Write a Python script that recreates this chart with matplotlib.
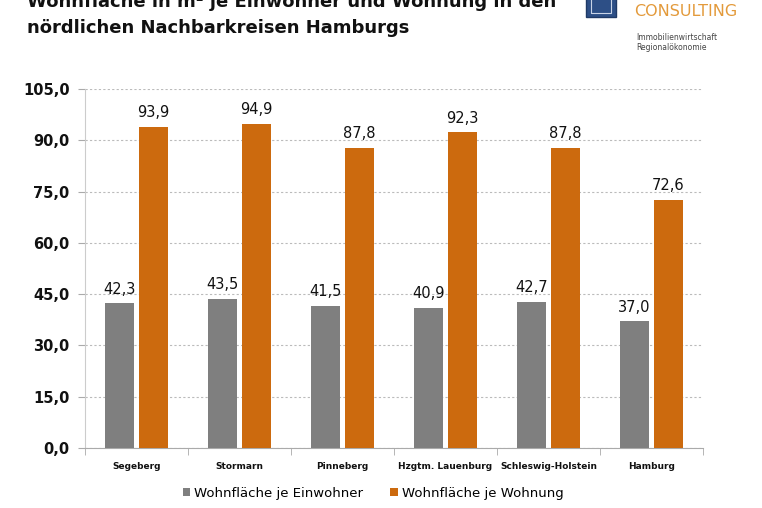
import matplotlib
matplotlib.use("Agg")
import matplotlib.pyplot as plt
import numpy as np
from matplotlib.patches import Rectangle

categories = ["Segeberg", "Stormarn", "Pinneberg", "Hzgtm. Lauenburg", "Schleswig-Holstein", "Hamburg"]
einwohner = [42.3, 43.5, 41.5, 40.9, 42.7, 37.0]
wohnung = [93.9, 94.9, 87.8, 92.3, 87.8, 72.6]
series_names = ["Wohnfläche je Einwohner", "Wohnfläche je Wohnung"]
yticks = [0, 15, 30, 45, 60, 75, 90, 105]

W, H = 762, 508
fig = plt.figure(figsize=(W / 100, H / 100), dpi=100)
fig.patch.set_facecolor("white")

ax = fig.add_axes([85 / W, 1 - 448 / H, (703 - 85) / W, (448 - 89) / H])
x = np.arange(len(categories))
bw = 0.29
off = 0.165
gray = "#7f7f7f"
orange = "#cc6a0e"
b1 = ax.bar(x - off, einwohner, bw, color=gray, label=series_names[0], zorder=3)
b2 = ax.bar(x + off, wohnung, bw, color=orange, label=series_names[1], zorder=3)

def fmt(v):
    return f"{v:.1f}".replace(".", ",")

for bars, vals in ((b1, einwohner), (b2, wohnung)):
    for r, v in zip(bars, vals):
        ax.text(r.get_x() + r.get_width() / 2, v + 2.0, fmt(v), ha="center", va="bottom",
                fontsize=10.5, color="#111111")

ax.set_xlim(-0.5, len(categories) - 0.5)
ax.set_ylim(0, 105)
ax.set_yticks(yticks)
ax.set_yticklabels([fmt(t) for t in yticks], fontsize=10.5, fontweight="bold", color="#111111")
ax.yaxis.grid(True, linestyle=(0, (2, 2)), color="#bbbbbb", linewidth=0.8, zorder=0)
ax.set_xticks(x)
ax.set_xticklabels(categories, fontsize=6.5, fontweight="bold", color="#111111")
ax.set_xticks(np.arange(-0.5, len(categories)), minor=True)
ax.tick_params(axis="x", which="major", length=0, pad=10)
ax.tick_params(axis="x", which="minor", length=5, color="#aaaaaa")
ax.tick_params(axis="y", length=5, color="#aaaaaa", pad=6)
for s in ("top", "right"):
    ax.spines[s].set_visible(False)
ax.spines["left"].set_color("#cccccc")
ax.spines["bottom"].set_color("#aaaaaa")

leg = fig.legend(handles=[b1, b2], labels=series_names, loc="center", bbox_to_anchor=(373 / W, 1 - 493 / H),
                 ncol=2, frameon=False, fontsize=9.5, handlelength=0.6, handleheight=0.6,
                 handletextpad=0.3, columnspacing=2.0)

fig.text(27 / W, 1 - 2 / H, "Wohnfläche in m² je Einwohner und Wohnung in den", fontsize=13,
         fontweight="bold", va="center", ha="left", color="#111111")
fig.text(27 / W, 1 - 28 / H, "nördlichen Nachbarkreisen Hamburgs", fontsize=13,
         fontweight="bold", va="center", ha="left", color="#111111")

fig.patches.append(Rectangle((586 / W, 1 - 17 / H), 30 / W, 20 / H, transform=fig.transFigure,
                             facecolor="#2d4f86", edgecolor="#1f3a66", linewidth=1))
fig.patches.append(Rectangle((591 / W, 1 - 13 / H), 20 / W, 16 / H, transform=fig.transFigure,
                             facecolor="none", edgecolor="#c8d3e6", linewidth=0.8))
fig.text(634 / W, 1 - 12 / H, "CONSULTING", fontsize=11.5, color="#e39a3b", va="center", ha="left")
fig.text(636 / W, 1 - 37 / H, "Immobilienwirtschaft", fontsize=5.5, color="#444444", va="center", ha="left")
fig.text(636 / W, 1 - 47 / H, "Regionalökonomie", fontsize=5.5, color="#444444", va="center", ha="left")

fig.savefig("out.png", dpi=100, facecolor="white")
